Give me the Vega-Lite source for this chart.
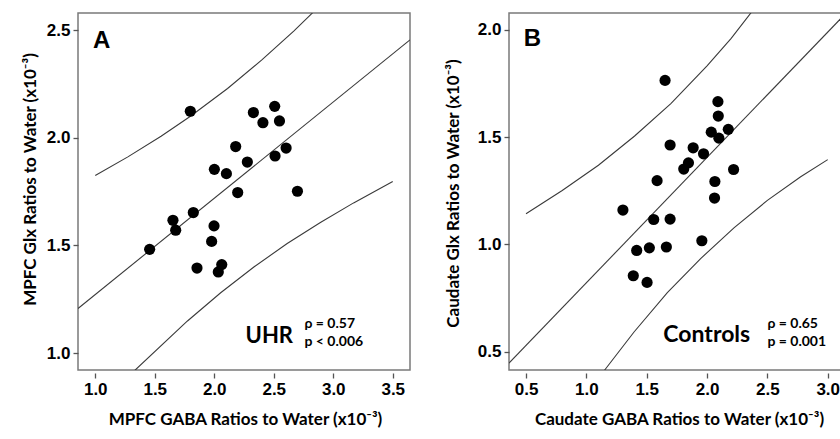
{
  "$schema": "https://vega.github.io/schema/vega-lite/v6.json",
  "autosize": {"type": "pad"},
  "padding": {"left": 20, "top": 12, "right": 0, "bottom": 0},
  "background": "white",
  "spacing": 99,
  "bounds": "flush",
  "config": {
    "view": {"stroke": "#7a7a7a", "strokeWidth": 1.5},
    "axis": {
      "domain": false, "grid": false, "ticks": true,
      "tickColor": "#555555", "tickSize": 5, "tickWidth": 1.3,
      "labelFont": "Liberation Sans", "labelFontWeight": "bold", "labelFontSize": 17, "labelColor": "black",
      "labelPadding": 3,
      "titleFont": "Lato", "titleFontWeight": "bold", "titleFontSize": 17, "titleColor": "black"
    }
  },
  "hconcat": [
    {
      "width": 332, "height": 357,
      "layer": [
        {
          "encoding": {
            "x": {"field": "x", "type": "quantitative",
              "scale": {"domain": [0.855, 3.645], "nice": false, "zero": false},
              "axis": {"values": [1, 1.5, 2, 2.5, 3, 3.5], "format": ".1f", "offset": 3,
                "title": "MPFC GABA Ratios to Water (x10⁻³)", "titleX": 167, "titleY": 46, "titleBaseline": "middle"}},
            "y": {"field": "y", "type": "quantitative",
              "scale": {"domain": [0.921, 2.581], "nice": false, "zero": false},
              "axis": {"values": [1, 1.5, 2, 2.5], "format": ".1f",
                "title": "MPFC Glx Ratios to Water (x10⁻³)", "titleX": -48, "titleY": 166, "titleAngle": -90, "titleAlign": "center", "titleBaseline": "middle"}}
          },
          "layer": [
            {
              "data": {"values": [
                {"band": "fit", "x": 0.855, "y": 1.207}, {"band": "fit", "x": 3.645, "y": 2.456},
                {"band": "upper", "x": 1.0, "y": 1.825}, {"band": "upper", "x": 1.274, "y": 1.912},
                {"band": "upper", "x": 1.553, "y": 2.008}, {"band": "upper", "x": 1.8, "y": 2.101},
                {"band": "upper", "x": 2.112, "y": 2.23}, {"band": "upper", "x": 2.4, "y": 2.363},
                {"band": "upper", "x": 2.668, "y": 2.497}, {"band": "upper", "x": 2.819, "y": 2.578},
                {"band": "upper", "x": 3.0, "y": 2.678},
                {"band": "lower", "x": 1.0, "y": 0.726}, {"band": "lower", "x": 1.334, "y": 0.92},
                {"band": "lower", "x": 1.775, "y": 1.149}, {"band": "lower", "x": 2.054, "y": 1.28},
                {"band": "lower", "x": 2.333, "y": 1.4}, {"band": "lower", "x": 2.613, "y": 1.509},
                {"band": "lower", "x": 2.892, "y": 1.607}, {"band": "lower", "x": 3.171, "y": 1.698},
                {"band": "lower", "x": 3.5, "y": 1.797}
              ]},
              "mark": {"type": "line", "clip": true, "color": "#3a3a3a", "strokeWidth": 1.1},
              "encoding": {"detail": {"field": "band"}}
            },
            {
              "data": {"values": [
                {"x": 1.799, "y": 2.124}, {"x": 2.329, "y": 2.118}, {"x": 2.508, "y": 2.147},
                {"x": 2.409, "y": 2.071}, {"x": 2.548, "y": 2.079}, {"x": 2.180, "y": 1.960},
                {"x": 2.604, "y": 1.953}, {"x": 2.511, "y": 1.916}, {"x": 2.278, "y": 1.888},
                {"x": 2.001, "y": 1.854}, {"x": 2.102, "y": 1.834}, {"x": 2.197, "y": 1.746},
                {"x": 2.699, "y": 1.752}, {"x": 1.824, "y": 1.653}, {"x": 1.653, "y": 1.617},
                {"x": 1.676, "y": 1.571}, {"x": 1.998, "y": 1.591}, {"x": 1.978, "y": 1.519},
                {"x": 1.457, "y": 1.482}, {"x": 1.855, "y": 1.395}, {"x": 2.063, "y": 1.411},
                {"x": 2.034, "y": 1.377}
              ]},
              "mark": {"type": "circle", "size": 125, "color": "black", "opacity": 1}
            }
          ]
        },
        {
          "data": {"values": [{"t": "A"}]},
          "mark": {"type": "text", "font": "Liberation Sans", "fontWeight": "bold", "fontSize": 24, "align": "left", "baseline": "alphabetic", "color": "black"},
          "encoding": {"x": {"datum": 0.981, "type": "quantitative"}, "y": {"datum": 2.42, "type": "quantitative"}, "text": {"field": "t"}}
        },
        {
          "data": {"values": [{"t": "UHR"}]},
          "mark": {"type": "text", "font": "Lato", "fontWeight": "bold", "fontSize": 22, "align": "left", "baseline": "alphabetic", "color": "black"},
          "encoding": {"x": {"datum": 2.263, "type": "quantitative"}, "y": {"datum": 1.045, "type": "quantitative"}, "text": {"field": "t"}}
        },
        {
          "data": {"values": [{"t": "ρ = 0.57"}]},
          "mark": {"type": "text", "font": "Lato", "fontWeight": "bold", "fontSize": 14, "align": "left", "baseline": "alphabetic", "color": "black"},
          "encoding": {"x": {"datum": 2.758, "type": "quantitative"}, "y": {"datum": 1.116, "type": "quantitative"}, "text": {"field": "t"}}
        },
        {
          "data": {"values": [{"t": "p < 0.006"}]},
          "mark": {"type": "text", "font": "Lato", "fontWeight": "bold", "fontSize": 14, "align": "left", "baseline": "alphabetic", "color": "black"},
          "encoding": {"x": {"datum": 2.758, "type": "quantitative"}, "y": {"datum": 1.033, "type": "quantitative"}, "text": {"field": "t"}}
        }
      ]
    },
    {
      "width": 332, "height": 357,
      "layer": [
        {
          "encoding": {
            "x": {"field": "x", "type": "quantitative",
              "scale": {"domain": [0.359, 3.11], "nice": false, "zero": false},
              "axis": {"values": [0.5, 1, 1.5, 2, 2.5, 3], "format": ".1f", "offset": 3,
                "title": "Caudate GABA Ratios to Water (x10⁻³)", "titleX": 170, "titleY": 46, "titleBaseline": "middle"}},
            "y": {"field": "y", "type": "quantitative",
              "scale": {"domain": [0.415, 2.078], "nice": false, "zero": false},
              "axis": {"values": [0.5, 1, 1.5, 2], "format": ".1f",
                "title": "Caudate Glx Ratios to Water (x10⁻³)", "titleX": -56, "titleY": 180, "titleAngle": -90, "titleAlign": "center", "titleBaseline": "middle"}}
          },
          "layer": [
            {
              "data": {"values": [
                {"band": "fit", "x": 0.359, "y": 0.447}, {"band": "fit", "x": 3.11, "y": 2.053},
                {"band": "upper", "x": 0.5, "y": 1.143}, {"band": "upper", "x": 0.8, "y": 1.251},
                {"band": "upper", "x": 1.1, "y": 1.369}, {"band": "upper", "x": 1.4, "y": 1.505},
                {"band": "upper", "x": 1.7, "y": 1.656}, {"band": "upper", "x": 2.0, "y": 1.832},
                {"band": "upper", "x": 2.2, "y": 1.96}, {"band": "upper", "x": 2.4, "y": 2.105},
                {"band": "lower", "x": 1.0, "y": 0.30}, {"band": "lower", "x": 1.16, "y": 0.421},
                {"band": "lower", "x": 1.395, "y": 0.592}, {"band": "lower", "x": 1.671, "y": 0.775},
                {"band": "lower", "x": 1.947, "y": 0.934}, {"band": "lower", "x": 2.223, "y": 1.077},
                {"band": "lower", "x": 2.5, "y": 1.205}, {"band": "lower", "x": 2.776, "y": 1.315},
                {"band": "lower", "x": 3.0, "y": 1.395}
              ]},
              "mark": {"type": "line", "clip": true, "color": "#3a3a3a", "strokeWidth": 1.1},
              "encoding": {"detail": {"field": "band"}}
            },
            {
              "data": {"values": [
                {"x": 1.652, "y": 1.764}, {"x": 2.090, "y": 1.665}, {"x": 2.093, "y": 1.598},
                {"x": 2.176, "y": 1.536}, {"x": 2.035, "y": 1.523}, {"x": 2.098, "y": 1.495},
                {"x": 1.694, "y": 1.463}, {"x": 1.885, "y": 1.450}, {"x": 1.971, "y": 1.422},
                {"x": 1.846, "y": 1.380}, {"x": 1.807, "y": 1.351}, {"x": 2.220, "y": 1.349},
                {"x": 1.586, "y": 1.297}, {"x": 2.065, "y": 1.293}, {"x": 2.062, "y": 1.216},
                {"x": 1.303, "y": 1.160}, {"x": 1.558, "y": 1.116}, {"x": 1.694, "y": 1.118},
                {"x": 1.957, "y": 1.017}, {"x": 1.522, "y": 0.984}, {"x": 1.663, "y": 0.988},
                {"x": 1.417, "y": 0.972}, {"x": 1.389, "y": 0.854}, {"x": 1.503, "y": 0.823}
              ]},
              "mark": {"type": "circle", "size": 125, "color": "black", "opacity": 1}
            }
          ]
        },
        {
          "data": {"values": [{"t": "B"}]},
          "mark": {"type": "text", "font": "Liberation Sans", "fontWeight": "bold", "fontSize": 24, "align": "left", "baseline": "alphabetic", "color": "black"},
          "encoding": {"x": {"datum": 0.481, "type": "quantitative"}, "y": {"datum": 1.923, "type": "quantitative"}, "text": {"field": "t"}}
        },
        {
          "data": {"values": [{"t": "Controls"}]},
          "mark": {"type": "text", "font": "Lato", "fontWeight": "bold", "fontSize": 23, "align": "left", "baseline": "alphabetic", "color": "black"},
          "encoding": {"x": {"datum": 1.638, "type": "quantitative"}, "y": {"datum": 0.545, "type": "quantitative"}, "text": {"field": "t"}}
        },
        {
          "data": {"values": [{"t": "ρ = 0.65"}]},
          "mark": {"type": "text", "font": "Lato", "fontWeight": "bold", "fontSize": 14, "align": "left", "baseline": "alphabetic", "color": "black"},
          "encoding": {"x": {"datum": 2.5, "type": "quantitative"}, "y": {"datum": 0.609, "type": "quantitative"}, "text": {"field": "t"}}
        },
        {
          "data": {"values": [{"t": "p = 0.001"}]},
          "mark": {"type": "text", "font": "Lato", "fontWeight": "bold", "fontSize": 14, "align": "left", "baseline": "alphabetic", "color": "black"},
          "encoding": {"x": {"datum": 2.5, "type": "quantitative"}, "y": {"datum": 0.525, "type": "quantitative"}, "text": {"field": "t"}}
        }
      ]
    }
  ]
}
